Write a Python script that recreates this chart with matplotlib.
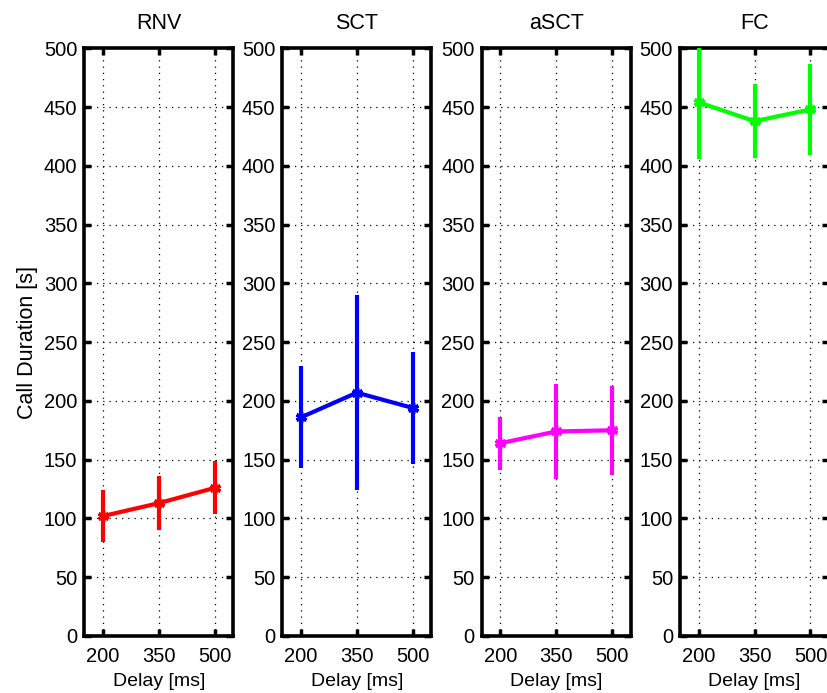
import matplotlib
matplotlib.use("Agg")
import matplotlib.pyplot as plt

plt.rcParams['font.family'] = ['Liberation Sans', 'DejaVu Sans']

delays = [200, 350, 500]
groups = ["RNV", "SCT", "aSCT", "FC"]
colors = ["#ff0000", "#0000ff", "#ff00ff", "#00ff00"]

rnv_mean = [102, 113, 126]
rnv_err = [22, 23, 22.5]
sct_mean = [186, 207, 194]
sct_err = [43.5, 83, 47.5]
asct_mean = [164, 174, 175]
asct_err = [22.7, 40.7, 38]
fc_mean = [454, 438, 448]
fc_err = [48, 31.5, 39]

means = [rnv_mean, sct_mean, asct_mean, fc_mean]
errs = [rnv_err, sct_err, asct_err, fc_err]

yticks = list(range(0, 501, 50))

fig = plt.figure(figsize=(8.28, 6.93), dpi=100)
lefts = [0.1018, 0.341, 0.5818, 0.8213]
bottom, height, width = 0.0823, 0.848, 0.18

for i, name in enumerate(groups):
    ax = fig.add_axes([lefts[i], bottom, width, height])
    ax.errorbar(delays, means[i], yerr=errs[i], color=colors[i], lw=3,
                elinewidth=3, capsize=0, marker=(6, 2, 0), ms=8, mew=2.5,
                clip_on=True, zorder=3)
    ax.set_xlim(150, 550)
    ax.set_ylim(0, 500)
    ax.set_xticks(delays)
    ax.set_yticks(yticks)
    ax.grid(True, color='black', linestyle=(0, (1, 4)), linewidth=0.9)
    for s in ax.spines.values():
        s.set_linewidth(2.6)
    ax.tick_params(direction='in', length=5, width=2.5, top=True, right=True,
                   labelsize=14.5, pad=5)
    ax.tick_params(axis='x', pad=8)
    ax.set_title(name, fontsize=15.5, pad=14)
    ax.set_xlabel("Delay [ms]", fontsize=14, labelpad=5)
    if i == 0:
        ax.set_ylabel("Call Duration [s]", fontsize=15.5, labelpad=4)

fig.savefig("out.png", dpi=100)
